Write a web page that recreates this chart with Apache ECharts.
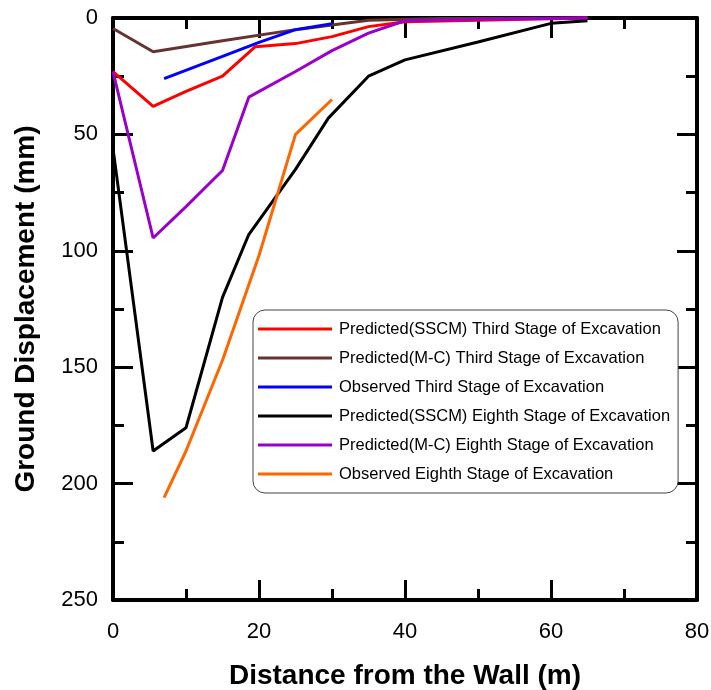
<!DOCTYPE html>
<html>
<head>
<meta charset="utf-8">
<script src="https://cdn.jsdelivr.net/npm/echarts@6/dist/echarts.min.js"></script>
<style>html,body{margin:0;padding:0;background:#fff}#c{width:711px;height:690px}</style>
</head>
<body>
<div id="c"></div>
<script>
// Data
var seriesNames = [
  'Predicted(SSCM) Third Stage of Excavation',
  'Predicted(M-C) Third Stage of Excavation',
  'Observed Third Stage of Excavation',
  'Predicted(SSCM) Eighth Stage of Excavation',
  'Predicted(M-C) Eighth Stage of Excavation',
  'Observed Eighth Stage of Excavation'
];
var redX = [0, 5.5, 10, 15, 19.5, 25, 30, 35, 40, 50, 65];
var redY = [23, 38, 31.5, 25, 12.3, 11, 8, 3.7, 1.6, 1, 0];
var brownX = [0, 5.5, 15, 25, 35, 45, 65];
var brownY = [4.5, 14.5, 9.8, 5, 1, 0.2, 0];
var blueX = [7, 15, 20, 25, 30];
var blueY = [26, 16.5, 10.5, 5, 2.5];
var blackX = [0, 5.5, 10, 15, 18.6, 25, 29.5, 35, 40, 50, 60, 65];
var blackY = [56, 186, 176, 120, 93, 65, 43, 25, 18, 10.3, 2.3, 1.2];
var purpleX = [0, 5.5, 10, 15, 18.6, 25, 30, 35, 40, 50, 65];
var purpleY = [23, 94.5, 81, 65.5, 34, 23, 14, 6.5, 1.2, 0.5, 0];
var orangeX = [7, 10, 15, 20, 25, 30];
var orangeY = [206, 186, 147, 102, 50, 35];
var xTicks = [0, 20, 40, 60, 80];
var yTicks = [0, 50, 100, 150, 200, 250];

var colors = ['#ff0000', '#663333', '#0000ff', '#000000', '#9900cc', '#ff6600'];
var xs = [redX, brownX, blueX, blackX, purpleX, orangeX];
var ys = [redY, brownY, blueY, blackY, purpleY, orangeY];

function pairs(a, b) { return a.map(function (v, i) { return [v, b[i]]; }); }

var FONT = 'Liberation Sans, Arial, sans-serif';
var axisLine = { show: true, onZero: false, lineStyle: { color: '#000', width: 4 } };
var tick = { show: true, inside: true, length: 20, lineStyle: { color: '#000', width: 3 } };
var minor = { show: true, splitNumber: 2, length: 11, lineStyle: { color: '#000', width: 3 } };

var chart = echarts.init(document.getElementById('c'), null, { renderer: 'canvas' });
chart.setOption({
  animation: false,
  backgroundColor: '#fff',
  grid: { left: 113, right: 14, top: 18, bottom: 90, containLabel: false, outerBoundsMode: 'none' },
  xAxis: [{
    type: 'value', min: xTicks[0], max: xTicks[xTicks.length - 1], interval: 20, position: 'bottom',
    axisLine: axisLine, axisTick: tick, minorTick: minor, splitLine: { show: false },
    axisLabel: { margin: 21, fontSize: 22, color: '#000', fontFamily: FONT },
    name: 'Distance from the Wall (m)', nameLocation: 'middle', nameGap: 62,
    nameTextStyle: { fontSize: 28, fontWeight: 'bold', color: '#000', fontFamily: FONT }
  }, {
    type: 'value', min: xTicks[0], max: xTicks[xTicks.length - 1], interval: 20, position: 'top',
    axisLine: axisLine, axisTick: tick, minorTick: minor, splitLine: { show: false },
    axisLabel: { show: false }
  }],
  yAxis: [{
    type: 'value', inverse: true, min: yTicks[0], max: yTicks[yTicks.length - 1], interval: 50, position: 'left',
    axisLine: axisLine, axisTick: tick, minorTick: minor, splitLine: { show: false },
    axisLabel: { margin: 15, fontSize: 22, color: '#000', fontFamily: FONT },
    name: 'Ground Displacement (mm)', nameLocation: 'middle', nameGap: 73,
    nameTextStyle: { fontSize: 28, fontWeight: 'bold', color: '#000', fontFamily: FONT }
  }, {
    type: 'value', inverse: true, min: yTicks[0], max: yTicks[yTicks.length - 1], interval: 50, position: 'right',
    axisLine: axisLine, axisTick: tick, minorTick: minor, splitLine: { show: false },
    axisLabel: { show: false }
  }],
  legend: {
    show: true, orient: 'vertical', left: 253, top: 310,
    data: seriesNames,
    icon: 'rect', itemWidth: 74, itemHeight: 3, itemGap: 11,
    padding: [10, 8, 10, 5],
    borderColor: '#444', borderWidth: 1, borderRadius: 12, backgroundColor: '#fff',
    textStyle: { fontSize: 16.5, color: '#000', fontFamily: FONT, lineHeight: 18, padding: [0, 0, 0, 2] }
  },
  series: seriesNames.map(function (n, i) {
    return {
      name: n, type: 'line', xAxisIndex: 0, yAxisIndex: 0,
      data: pairs(xs[i], ys[i]), showSymbol: false, symbol: 'none',
      color: colors[i], lineStyle: { color: colors[i], width: 3 }, clip: false, z: 2
    };
  })
});
</script>
</body>
</html>
